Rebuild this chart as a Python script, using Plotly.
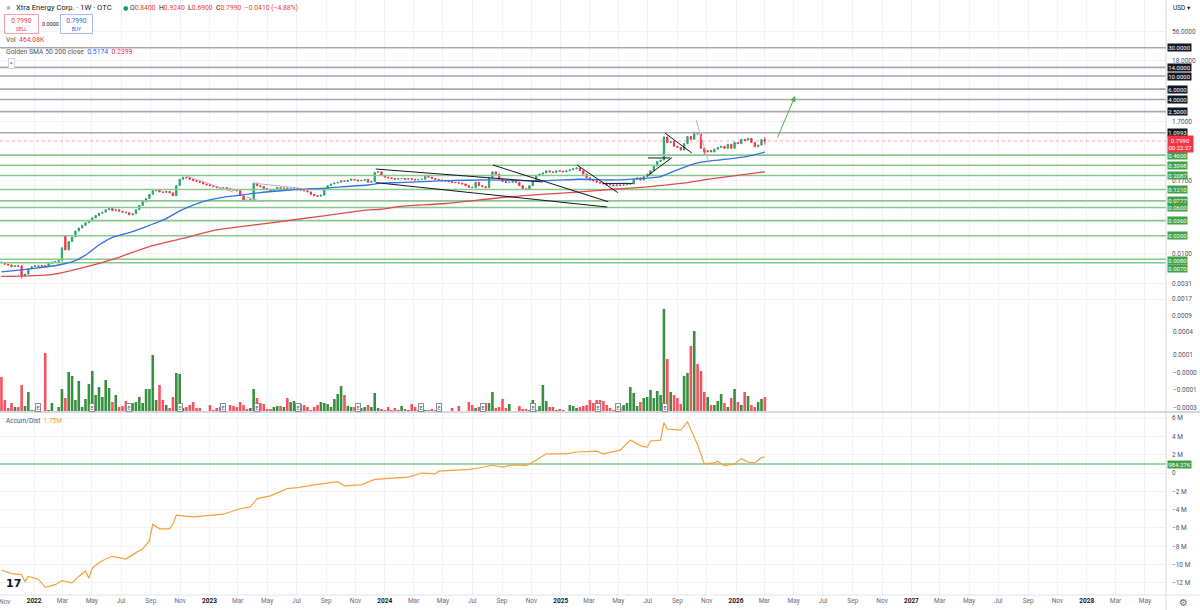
import math
import pandas as pd
import plotly.graph_objects as go

FONT = "Roboto, 'DejaVu Sans', sans-serif"
W, H = 1200, 610

# ---------------- data ----------------
first_week = "2021-10-25"
closes = [
    0.0070, 0.0066, 0.0064, 0.0060, 0.0062, 0.0061, 0.0042, 0.0045, 0.0055, 0.0060,
    0.0062, 0.0060, 0.0063, 0.0061, 0.0068, 0.0072, 0.0073, 0.0076, 0.0125, 0.0115,
    0.016, 0.019, 0.024, 0.027, 0.030, 0.033, 0.036, 0.040, 0.044, 0.048,
    0.050, 0.055, 0.058, 0.053, 0.055, 0.052, 0.050, 0.049, 0.045, 0.047,
    0.055, 0.065, 0.075, 0.085, 0.100, 0.115, 0.118, 0.110, 0.108, 0.112,
    0.106, 0.095, 0.140, 0.180, 0.195, 0.190, 0.180, 0.170, 0.165, 0.160,
    0.150, 0.145, 0.140, 0.135, 0.130, 0.128, 0.130, 0.125, 0.120, 0.118,
    0.115, 0.095, 0.080, 0.078, 0.082, 0.155, 0.140, 0.135, 0.125, 0.120,
    0.115, 0.120, 0.130, 0.125, 0.128, 0.122, 0.125, 0.125, 0.120, 0.118,
    0.115, 0.110, 0.100, 0.095, 0.093, 0.097, 0.125, 0.140, 0.150, 0.155,
    0.160, 0.170, 0.165, 0.172, 0.180, 0.175, 0.168, 0.172, 0.178, 0.160,
    0.165, 0.235, 0.240, 0.210, 0.195, 0.190, 0.185, 0.180, 0.185, 0.185,
    0.180, 0.185, 0.180, 0.175, 0.178, 0.180, 0.210, 0.195, 0.185, 0.180,
    0.175, 0.170, 0.168, 0.165, 0.160, 0.158, 0.155, 0.150, 0.140, 0.132,
    0.130, 0.160, 0.140, 0.135, 0.130, 0.190, 0.240, 0.220, 0.180, 0.165,
    0.158, 0.160, 0.170, 0.160, 0.140, 0.125, 0.120, 0.140, 0.170, 0.210,
    0.220, 0.230, 0.250, 0.240, 0.235, 0.250, 0.245, 0.240, 0.250, 0.260,
    0.270, 0.280, 0.250, 0.220, 0.190, 0.175, 0.170, 0.160, 0.155, 0.150,
    0.148, 0.145, 0.140, 0.145, 0.142, 0.145, 0.148, 0.150, 0.180, 0.190,
    0.175, 0.200, 0.220, 0.250, 0.300, 0.360, 0.380, 0.930, 0.750, 0.780,
    0.650, 0.620, 0.560, 0.720, 0.950, 0.850, 1.080, 1.050, 0.600, 0.520,
    0.550, 0.520, 0.580, 0.620, 0.650, 0.600, 0.700, 0.600, 0.750, 0.720,
    0.850, 0.820, 0.880, 0.750, 0.640, 0.680, 0.840, 0.799,
]
first_open = 0.0072
open_gaps = {19: 0.0200}
wick_high = {6: 0.0064, 197: 0.96, 206: 1.16, 208: 1.10, 227: 0.924}
wick_low = {6: 0.0038, 209: 0.47, 227: 0.69}

volume_k = [
    1085, 372, 124, 279, 155, 155, 837, 186, 620, 62,
    62, 31, 31, 1829, 62, 279, 31, 155, 713, 434,
    1240, 1116, 372, 961, 155, 403, 868, 1271, 527, 775,
    465, 992, 744, 310, 527, 155, 186, 341, 62, 279,
    310, 465, 279, 713, 713, 1767, 372, 837, 372, 217,
    124, 465, 1209, 1178, 124, 155, 217, 310, 124, 124,
    31, 31, 217, 62, 124, 155, 62, 31, 217, 186,
    155, 310, 217, 93, 124, 713, 434, 279, 248, 93,
    93, 155, 186, 186, 155, 434, 310, 341, 279, 248,
    217, 155, 62, 155, 217, 310, 279, 248, 155, 403,
    558, 806, 527, 186, 155, 155, 124, 124, 155, 217,
    155, 589, 124, 93, 62, 155, 62, 124, 62, 186,
    93, 62, 248, 155, 62, 62, 62, 62, 93, 62,
    31, 10, 10, 31, 124, 31, 186, 31, 31, 310,
    217, 124, 155, 62, 279, 279, 620, 124, 155, 403,
    124, 248, 10, 10, 186, 93, 93, 62, 372, 62,
    186, 837, 341, 155, 155, 62, 93, 62, 31, 217,
    186, 124, 155, 186, 217, 372, 279, 372, 372, 341,
    217, 124, 62, 62, 155, 217, 279, 775, 589, 186,
    310, 434, 465, 682, 434, 651, 527, 3193, 1643, 620,
    527, 434, 248, 1116, 1209, 2046, 2511, 1488, 1271, 620,
    465, 217, 217, 341, 558, 279, 155, 434, 713, 310,
    217, 620, 496, 217, 155, 310, 403, 464.08,
]

ad_week_idx = [0, 3, 6, 7, 8, 11, 13, 16, 18, 21, 23, 25, 26, 27, 29, 31, 33, 37, 40, 42,
               44, 45, 47, 50, 51, 52, 57, 66, 71, 74, 76, 80, 85, 88, 93, 97, 100, 102, 107, 111,
               115, 121, 125, 129, 130, 139, 142, 146, 149, 152, 156, 159, 162, 168, 171, 177, 179, 182, 184, 187,
               190, 192, 193, 196, 197, 198, 202, 204, 207, 209, 212, 213, 215, 218, 220, 222, 224, 226, 227]
ad_values_m = [-10.6, -11.0, -11.1, -11.9, -11.3, -11.6, -12.5, -12.2, -11.75, -12.0,
               -11.3, -10.7, -11.5, -10.4, -9.8, -9.4, -9.1, -9.4, -8.7, -8.3,
               -7.4, -5.6, -6.1, -6.1, -5.6, -4.6, -4.8, -4.5, -3.9, -3.7,
               -2.8, -2.5, -1.7, -1.6, -1.3, -1.1, -0.95, -1.4, -1.3, -0.7,
               -0.6, -0.45, 0.0, -0.1, 0.2, 0.4, 0.55, 0.85, 0.65, 0.9,
               0.8, 1.4, 2.1, 2.1, 2.3, 2.4, 2.1, 2.3, 2.5, 3.6,
               3.0, 2.8, 3.5, 3.6, 5.5, 4.8, 4.7, 5.6, 3.1, 1.0,
               1.1, 1.3, 0.8, 1.0, 1.6, 1.2, 1.1, 1.7, 1.75]

sma50_idx = [0, 6, 11, 17, 21, 25, 29, 33, 39, 44, 49, 53, 57, 61, 65, 71, 77, 83, 89, 95,
             101, 109, 113, 118, 132, 145, 162, 172, 182, 191, 196, 201, 207, 213, 221, 227]
sma50_val = [0.0049, 0.0053, 0.0057, 0.0064, 0.0072, 0.0094, 0.0139, 0.0187, 0.0234, 0.030,
             0.039, 0.0525, 0.066, 0.078, 0.0875, 0.097, 0.107, 0.115, 0.123, 0.126,
             0.134, 0.144, 0.155, 0.158, 0.17, 0.175, 0.17, 0.18, 0.175, 0.186,
             0.2, 0.26, 0.34, 0.38, 0.43, 0.5174]
sma200_idx = [0, 15, 24, 34, 44, 54, 64, 79, 94, 109, 113, 118, 132, 152, 172, 182, 192, 202, 212, 227]
sma200_val = [0.0041, 0.0044, 0.0057, 0.0083, 0.0131, 0.018, 0.025, 0.0324, 0.042, 0.0545,
              0.056, 0.062, 0.07, 0.092, 0.11, 0.122, 0.134, 0.153, 0.186, 0.2399]

resistance_levels = [30.0, 14.0, 10.0, 6.0, 4.0, 2.5, 1.0993]
resistance_labels = ["30.0000", "14.0000", "10.0000", "6.0000", "4.0000", "2.5000", "1.0993"]
support_levels = [0.46, 0.3098, 0.2087, 0.121, 0.0777, 0.06, 0.036, 0.02, 0.008, 0.007]
support_labels = ["0.4600", "0.3098", "0.2087", "0.1210", "0.0777", "0.0600", "0.0360", "0.0200", "0.0080", "0.0070"]
last_price = 0.799
last_price_label = "0.7990"
countdown = "00:22:27"
ad_level = 984270
ad_level_label = "984.27K"

price_ticks = [56, 18, 1.7, 0.17, 0.01, 0.0031, 0.0017, 0.0009]
price_tick_labels = ["56.0000", "18.0000", "1.7000", "0.1700",
                     "0.0100", "0.0031", "0.0017", "0.0009"]
low_scale_labels = ["0.0004", "0.0001", "\u22120.0000", "\u22120.0001", "\u22120.0003"]
ad_ticks = [6e6, 4e6, 2e6, 0, -2e6, -4e6, -6e6, -8e6, -10e6, -12e6]
ad_tick_labels = ["6 M", "4 M", "2 M", "0", "\u22122 M", "\u22124 M", "\u22126 M", "\u22128 M", "\u221210 M", "\u221212 M"]

earnings_dates = ["2022-01-09", "2022-05-02", "2022-07-18", "2022-11-01", "2023-01-29", "2023-04-10",
                  "2023-07-04", "2023-11-06", "2024-03-17", "2024-04-22", "2024-07-23", "2024-11-04",
                  "2025-03-20", "2025-04-30", "2025-08-06"]

grey_drawings = [
    ("2022-11-15", 0.204, "2023-02-19", 0.109),
    ("2023-04-02", 0.155, "2023-07-23", 0.123),
    ("2023-03-20", 0.090, "2023-04-23", 0.075),
    ("2025-10-10", 1.805, "2025-11-06", 0.339),
]
black_drawings = [
    ("2023-12-13", 0.268, "2024-11-25", 0.162),
    ("2023-12-13", 0.158, "2025-04-08", 0.061),
    ("2024-08-13", 0.313, "2025-04-10", 0.075),
    ("2025-02-04", 0.313, "2025-04-30", 0.107),
    ("2025-03-30", 0.153, "2025-05-31", 0.153),
    ("2025-06-30", 0.204, "2025-08-21", 0.42),
    ("2025-07-02", 0.412, "2025-08-17", 0.412),
    ("2025-08-06", 1.087, "2025-10-01", 0.50),
]
target_arrow = ("2026-03-27", 0.862, "2026-05-04", 4.59)

x_range = ["2021-10-22", "2028-06-14"]

# ---------------- derived series ----------------
n = len(closes)
weeks = pd.date_range(first_week, periods=n, freq="7D")
opens = [open_gaps.get(i, closes[i - 1] if i > 0 else first_open) for i in range(n)]
highs = [max(wick_high.get(i, 0.0), opens[i], closes[i]) for i in range(n)]
lows = [min(wick_low.get(i, 1e9), opens[i], closes[i]) for i in range(n)]

UP, DN = "#2ea36a", "#f23645"
VUP, VDN = "#37903f", "#f7525f"
vol_colors = [VUP if closes[i] >= opens[i] else VDN for i in range(n)]


def px(x):
    return x / W


def py(y):
    return 1 - y / H


fig = go.Figure()

# volume (overlay at bottom of price pane)
fig.add_trace(go.Bar(x=weeks, y=[v * 1000 for v in volume_k], marker_color=vol_colors,
                     marker_line_width=0, width=5.4 * 86400000, xaxis="x", yaxis="y2",
                     showlegend=False, hoverinfo="skip"))

# horizontal levels
for lv in resistance_levels:
    fig.add_trace(go.Scatter(x=x_range, y=[lv, lv], mode="lines", line=dict(color="#a6a9b1", width=1.6),
                             xaxis="x", yaxis="y", showlegend=False, hoverinfo="skip"))
for lv in support_levels:
    fig.add_trace(go.Scatter(x=x_range, y=[lv, lv], mode="lines", line=dict(color="#86c98a", width=1.6),
                             xaxis="x", yaxis="y", showlegend=False, hoverinfo="skip"))
fig.add_trace(go.Scatter(x=x_range, y=[last_price, last_price], mode="lines",
                         line=dict(color="rgba(242,54,69,0.45)", width=1, dash="dot"),
                         xaxis="x", yaxis="y", showlegend=False, hoverinfo="skip"))

# SMAs
fig.add_trace(go.Scatter(x=[weeks[i] for i in sma200_idx], y=sma200_val, mode="lines",
                         line=dict(color="#e04a4f", width=1.3, shape="spline", smoothing=0.6),
                         xaxis="x", yaxis="y", showlegend=False, hoverinfo="skip"))
fig.add_trace(go.Scatter(x=[weeks[i] for i in sma50_idx], y=sma50_val, mode="lines",
                         line=dict(color="#3570e6", width=1.3, shape="spline", smoothing=0.6),
                         xaxis="x", yaxis="y", showlegend=False, hoverinfo="skip"))

# drawings
for d0, p0, d1, p1 in grey_drawings:
    fig.add_trace(go.Scatter(x=[d0, d1], y=[p0, p1], mode="lines", line=dict(color="#b4b7bf", width=1),
                             xaxis="x", yaxis="y", showlegend=False, hoverinfo="skip"))
for d0, p0, d1, p1 in black_drawings:
    fig.add_trace(go.Scatter(x=[d0, d1], y=[p0, p1], mode="lines", line=dict(color="#131722", width=1),
                             xaxis="x", yaxis="y", showlegend=False, hoverinfo="skip"))

# candles
fig.add_trace(go.Candlestick(x=weeks, open=opens, high=highs, low=lows, close=closes,
                             increasing=dict(line=dict(color=UP, width=1), fillcolor=UP),
                             decreasing=dict(line=dict(color=DN, width=1), fillcolor=DN),
                             whiskerwidth=0, xaxis="x", yaxis="y", showlegend=False, hoverinfo="skip"))

# accumulation / distribution
fig.add_trace(go.Scatter(x=x_range, y=[ad_level, ad_level], mode="lines", line=dict(color="#86c98a", width=1.6),
                         xaxis="x", yaxis="y3", showlegend=False, hoverinfo="skip"))
fig.add_trace(go.Scatter(x=[weeks[i] for i in ad_week_idx], y=[v * 1e6 for v in ad_values_m], mode="lines",
                         line=dict(color="#f4a23a", width=1.2), xaxis="x", yaxis="y3",
                         showlegend=False, hoverinfo="skip"))

# ---------------- axes ----------------
tick_dates = pd.date_range("2022-01-01", "2028-05-01", freq="2MS")
tick_text = [f"<span style='color:#131722'><b>{d.year}</b></span>" if d.month == 1 else d.strftime("%b")
             for d in tick_dates]

GRID = "#f0f2f7"
fig.update_layout(
    width=W, height=H, margin=dict(l=0, r=0, t=0, b=0),
    paper_bgcolor="white", plot_bgcolor="white",
    font=dict(family=FONT, size=7, color="#131722"),
    hovermode=False, showlegend=False, boxgap=0.45,
    xaxis=dict(type="date", domain=[0, px(1166)], range=x_range, anchor="free", position=py(595),
               tickvals=list(tick_dates), ticktext=tick_text, tickfont=dict(size=6.5, color="#6a6d78"),
               showgrid=True, gridcolor=GRID, gridwidth=1, zeroline=False, showline=False, ticks="",
               rangeslider=dict(visible=False)),
    yaxis=dict(type="log", domain=[py(412), 1], range=[-4.678, 2.2843], side="right", anchor="x",
               tickvals=price_ticks, ticktext=price_tick_labels, tickfont=dict(size=6.5, color="#50535e"),
               showgrid=True, gridcolor=GRID, zeroline=False, ticks="", ticklabelstandoff=5, showline=False),
    yaxis2=dict(domain=[py(412), py(300)], range=[0, 3.472e6], visible=False, anchor="x"),
    yaxis3=dict(domain=[py(595), py(413)], range=[-13.33e6, 6.56e6], side="right", anchor="x",
                tickvals=ad_ticks, ticktext=ad_tick_labels, tickfont=dict(size=6.5, color="#50535e"),
                showgrid=True, gridcolor=GRID, zeroline=False, ticks="", ticklabelstandoff=5, showline=False),
)

shapes = [
    dict(type="line", xref="paper", yref="paper", x0=px(1166), x1=px(1166), y0=0, y1=1,
         line=dict(color="#d6d9e0", width=1)),
    dict(type="line", xref="paper", yref="paper", x0=0, x1=1, y0=py(412), y1=py(412),
         line=dict(color="#d6d9e0", width=2)),
    dict(type="line", xref="paper", yref="paper", x0=0, x1=1, y0=py(595), y1=py(595),
         line=dict(color="#e0e3eb", width=1)),
]
fig.update_layout(shapes=shapes)

ann = []
LBLX = px(1167)
BOXFONT = 6.0


def level_label(text, val, bg, yshift=0):
    return dict(xref="paper", yref="y", x=LBLX, y=math.log10(val), xanchor="left", yanchor="middle",
                text=text, showarrow=False, bgcolor=bg, borderpad=0.2, yshift=yshift,
                font=dict(color="white", size=BOXFONT, family=FONT))


for lv, t in zip(resistance_levels, resistance_labels):
    ann.append(level_label(t, lv, "#131722"))
shifts = {"0.0080": -1.5, "0.0070": -5.5}
for lv, t in zip(support_levels, support_labels):
    ann.append(level_label(t, lv, "#43a047", shifts.get(t, 0)))
ann.append(dict(xref="paper", yref="y", x=LBLX, y=math.log10(last_price), xanchor="left", yanchor="middle",
                text=f"{last_price_label}<br>{countdown}", showarrow=False, bgcolor="#f23645",
                borderpad=0.5, yshift=-3, font=dict(color="white", size=6, family=FONT)))
ann.append(dict(xref="paper", yref="y3", x=LBLX, y=ad_level, xanchor="left", yanchor="middle",
                text=ad_level_label, showarrow=False, bgcolor="#43a047", borderpad=0.2,
                font=dict(color="white", size=BOXFONT, family=FONT)))

for t, yy in zip(low_scale_labels, [332, 355, 373, 390, 408]):
    ann.append(dict(xref="paper", yref="paper", x=px(1171), y=py(yy), xanchor="left", yanchor="middle",
                    text=t, showarrow=False, font=dict(size=6.5, color="#50535e")))

ann.append(dict(xref="x", yref="paper", x="2021-11-01", y=py(602), xanchor="center", yanchor="middle",
                text="Nov", showarrow=False, font=dict(size=6.5, color="#6a6d78")))
ann.append(dict(xref="paper", yref="paper", x=px(1171), y=py(8), xanchor="left", yanchor="middle",
                text="USD \u25be", showarrow=False, font=dict(size=6.5, color="#131722")))
ann.append(dict(xref="paper", yref="paper", x=px(1183), y=py(602), xanchor="center", yanchor="middle",
                text="\u2699", showarrow=False, font=dict(size=10, color="#6a6d78")))
ann.append(dict(xref="paper", yref="paper", x=px(4), y=py(583), xanchor="left", yanchor="middle",
                text="<b>17</b>", showarrow=False, font=dict(size=11, color="#131722", family="DejaVu Sans")))

# earnings markers
for d in earnings_dates:
    ann.append(dict(xref="x", yref="paper", x=d, y=py(407), xanchor="center", yanchor="middle",
                    text="E", showarrow=False, bgcolor="white", bordercolor="#8a8d96", borderwidth=1,
                    borderpad=0.5, font=dict(size=5.5, color="#50535e")))

# target arrow
d0, p0, d1, p1 = target_arrow
ann.append(dict(xref="x", yref="y", axref="x", ayref="y", x=d1, y=math.log10(p1), ax=d0, ay=math.log10(p0),
                text="", showarrow=True, arrowhead=2, arrowsize=1.1, arrowwidth=1, arrowcolor="#4caf50"))

# header legend
RED = "#f23645"
ann.append(dict(xref="paper", yref="paper", x=px(4), y=py(8), xanchor="left", yanchor="middle",
                text="<span style='color:#b2b5be'>\u2731</span>", showarrow=False, font=dict(size=6)))
ann.append(dict(xref="paper", yref="paper", x=px(14), y=py(8), xanchor="left", yanchor="middle",
                text="Xtra Energy Corp. \u00b7 1W \u00b7 OTC", showarrow=False,
                font=dict(size=7.6, color="#131722")))
ann.append(dict(xref="paper", yref="paper", x=px(121), y=py(8), xanchor="left", yanchor="middle",
                text="\u25cf", showarrow=False, font=dict(size=6, color="#089981")))
ohlc = (f"O<span style='color:{RED}'>0.8400</span>  H<span style='color:{RED}'>0.9240</span>  "
        f"L<span style='color:{RED}'>0.6900</span>  C<span style='color:{RED}'>0.7990</span>  "
        f"<span style='color:{RED}'>\u22120.0410 (\u22124.88%)</span>")
ann.append(dict(xref="paper", yref="paper", x=px(128), y=py(8), xanchor="left", yanchor="middle",
                text=ohlc, showarrow=False, font=dict(size=6.8, color="#131722")))
ann.append(dict(xref="paper", yref="paper", x=px(4), y=py(24), xanchor="left", yanchor="middle",
                text=f"0.7990<br><span style='font-size:5px'>SELL</span>", showarrow=False, width=30,
                bgcolor="white", bordercolor="#f7a1a8", borderwidth=1, borderpad=1.5,
                font=dict(size=6.5, color=RED)))
ann.append(dict(xref="paper", yref="paper", x=px(40), y=py(24), xanchor="left", yanchor="middle",
                text="0.0000", showarrow=False, font=dict(size=5.5, color="#131722")))
ann.append(dict(xref="paper", yref="paper", x=px(60), y=py(24), xanchor="left", yanchor="middle",
                text=f"0.7990<br><span style='font-size:5px'>BUY</span>", showarrow=False, width=28,
                bgcolor="white", bordercolor="#a8bdf5", borderwidth=1, borderpad=1.5,
                font=dict(size=6.5, color="#2962ff")))
ann.append(dict(xref="paper", yref="paper", x=px(4), y=py(40), xanchor="left", yanchor="middle",
                text=f"Vol  <span style='color:{RED}'>464.08K</span>", showarrow=False,
                font=dict(size=6.8, color="#50535e")))
ann.append(dict(xref="paper", yref="paper", x=px(4), y=py(52), xanchor="left", yanchor="middle",
                text=f"Golden SMA 50 200 close  <span style='color:#2962ff'>0.5174</span>  "
                     f"<span style='color:{RED}'>0.2399</span>", showarrow=False,
                font=dict(size=6.8, color="#50535e")))
ann.append(dict(xref="paper", yref="paper", x=px(11), y=py(63), xanchor="center", yanchor="middle",
                text="^", showarrow=False, bgcolor="white", bordercolor="#d1d4dc", borderwidth=1, borderpad=1,
                font=dict(size=6, color="#131722")))
ann.append(dict(xref="paper", yref="paper", x=px(4), y=py(421), xanchor="left", yanchor="middle",
                text="Accum/Dist  <span style='color:#f4a23a'>1.75M</span>", showarrow=False,
                font=dict(size=6.5, color="#50535e")))

fig.update_layout(annotations=ann)

fig.write_html("out.html", config={"displayModeBar": False},
               post_script="document.body.style.margin='0';document.body.style.overflow='hidden';")
